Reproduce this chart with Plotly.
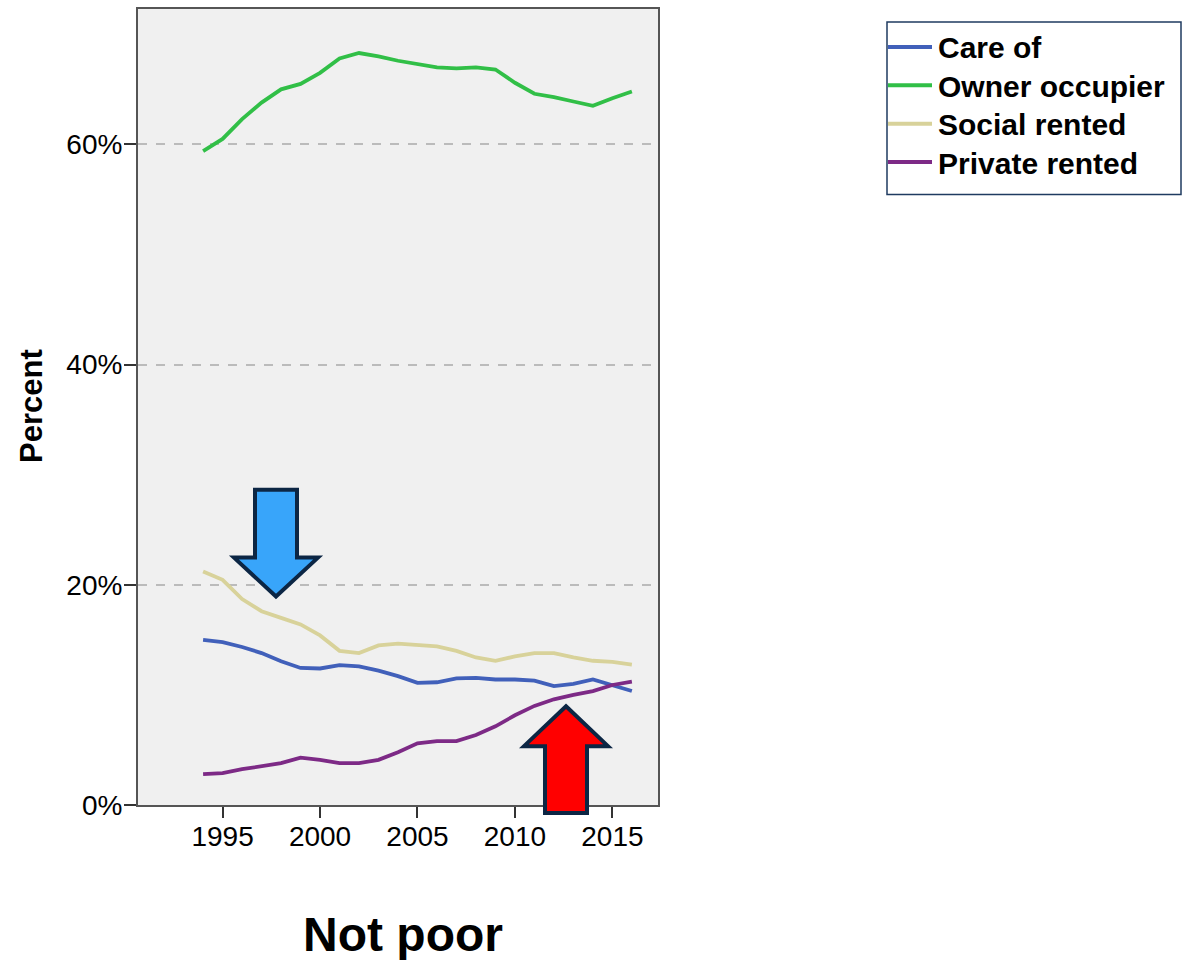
import plotly.graph_objects as go

years = list(range(1994, 2017))
series_names = ["Care of", "Owner occupier", "Social rented", "Private rented"]
care_of = [15.0, 14.8, 14.35, 13.8, 13.05, 12.45, 12.4, 12.7, 12.6, 12.2, 11.7, 11.1,
           11.15, 11.5, 11.55, 11.4, 11.4, 11.3, 10.8, 11.0, 11.4, 10.9, 10.35]
owner_occupier = [59.4, 60.5, 62.3, 63.8, 65.0, 65.5, 66.5, 67.8, 68.3, 68.0, 67.6, 67.3,
                  67.0, 66.9, 67.0, 66.8, 65.6, 64.6, 64.3, 63.9, 63.5, 64.2, 64.8]
social_rented = [21.2, 20.45, 18.7, 17.6, 17.0, 16.4, 15.4, 14.0, 13.8, 14.5, 14.65, 14.5,
                 14.4, 14.0, 13.4, 13.1, 13.5, 13.8, 13.8, 13.4, 13.1, 13.0, 12.75]
private_rented = [2.8, 2.9, 3.25, 3.55, 3.8, 4.3, 4.1, 3.8, 3.8, 4.1, 4.8, 5.6,
                  5.8, 5.8, 6.35, 7.15, 8.15, 9.0, 9.6, 10.0, 10.35, 10.9, 11.2]
x_ticks = [1995, 2000, 2005, 2010, 2015]
y_ticks = [0, 20, 40, 60]
y_tick_labels = [f"{v}%" for v in y_ticks]
y_title = "Percent"
panel_title = "Not poor"

colors = ["#4160BA", "#31BF47", "#D8D29A", "#7D2A86"]
values = [care_of, owner_occupier, social_rented, private_rented]

W, H = 1186, 960
L, R, T, B = 138, 658, 7, 805
FONT = "Liberation Sans, Arial, sans-serif"


def px(xp):
    return (xp - L) / (R - L)


def py(yp):
    return (B - yp) / (B - T)


fig = go.Figure()
for name, vals, c in zip(series_names, values, colors):
    fig.add_trace(go.Scatter(x=years, y=vals, mode="lines", name=name,
                             line=dict(color=c, width=3.8), showlegend=False))

shapes = []


def poly(points, fill, outline):
    d = "M " + " L ".join(f"{px(a):.5f},{py(b):.5f}" for a, b in points) + " Z"
    return dict(type="path", xref="paper", yref="paper", path=d,
                fillcolor=fill, line=dict(color=outline, width=4), layer="above")


# Blue down arrow
shapes.append(poly([(255, 489), (297, 489), (297, 557), (318, 557), (276, 596),
                    (234, 557), (255, 557)], "#38A5FA", "#0C2644"))
# Red up arrow
shapes.append(poly([(566, 706), (608, 746), (587, 746), (587, 813), (545, 813),
                    (545, 746), (524, 746)], "#FF0000", "#0C2644"))

# Legend box
shapes.append(dict(type="rect", xref="paper", yref="paper",
                   x0=px(887), x1=px(1181), y0=py(193), y1=py(20),
                   line=dict(color="#1F3B60", width=1.5), fillcolor="white"))
annotations = []
leg_y = [45, 83.5, 122, 160.5]
for name, c, yy in zip(series_names, colors, leg_y):
    shapes.append(dict(type="line", xref="paper", yref="paper",
                       x0=px(888), x1=px(932), y0=py(yy), y1=py(yy),
                       line=dict(color=c, width=4)))
    annotations.append(dict(xref="paper", yref="paper", x=px(936), y=py(yy + 1),
                            xanchor="left", yanchor="middle", showarrow=False,
                            text=name, font=dict(family=FONT, size=30, color="black",
                                                 weight="bold")))

annotations.append(dict(xref="paper", yref="paper", x=px(31), y=py(405),
                        xanchor="center", yanchor="middle", showarrow=False,
                        textangle=-90, text=y_title,
                        font=dict(family=FONT, size=31, color="black", weight="bold")))
annotations.append(dict(xref="paper", yref="paper", x=px(403), y=py(935),
                        xanchor="center", yanchor="middle", showarrow=False,
                        text=panel_title,
                        font=dict(family=FONT, size=48, color="black", weight="bold")))

fig.update_layout(
    width=W, height=H,
    margin=dict(l=L, r=W - R, t=T, b=H - B, pad=0),
    paper_bgcolor="white", plot_bgcolor="#F0F0F0",
    shapes=shapes, annotations=annotations,
    font=dict(family=FONT, size=28, color="black"),
    xaxis=dict(range=[1990.66, 2017.34], tickvals=x_ticks, ticks="outside",
               ticklen=11, tickwidth=1.5, tickcolor="#333333", showgrid=False,
               showline=True, mirror=True, linecolor="#555555", linewidth=2,
               zeroline=False, tickfont=dict(size=28), ticklabelstandoff=-6),
    yaxis=dict(range=[0, 72.3], tickvals=y_ticks, ticktext=y_tick_labels,
               ticks="outside", ticklen=12, tickwidth=1.5, tickcolor="#333333",
               showgrid=True, gridcolor="#BBBBBB", gridwidth=1.5, griddash="dash",
               showline=True, mirror=True, linecolor="#555555", linewidth=2,
               zeroline=False, tickfont=dict(size=28), ticklabelstandoff=-4),
)

fig.write_html("out.html",
               config={"displayModeBar": False},
               post_script="document.body.style.margin='0';"
                           "document.body.style.overflow='hidden';")
